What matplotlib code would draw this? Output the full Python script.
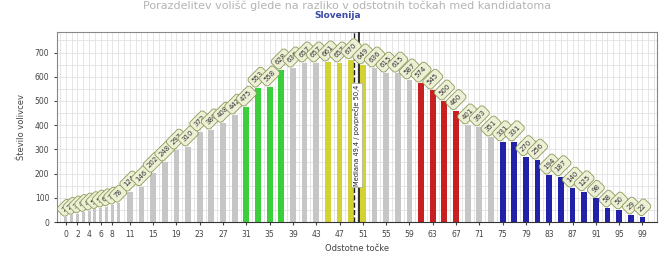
import matplotlib
matplotlib.use("Agg")
import matplotlib.pyplot as plt
from matplotlib.ticker import AutoMinorLocator

# odstotne točke (bars) and counts
LOW_POINTS = [0, 1, 2, 3, 4, 5, 6, 7, 8, 9]
LOW_COUNTS = [20, 28, 34, 40, 46, 52, 58, 63, 70, 78]

ODD_POINTS = list(range(11, 100, 2))
ODD_COUNTS = [124, 146, 202, 248, 297, 310, 372, 380, 408, 442,
              475, 553, 558, 628, 636, 657, 657, 661, 657, 670,
              649, 636, 615, 615, 587, 574, 545, 500, 460, 401,
              393, 351, 331, 331, 270, 256, 194, 187, 140, 125,
              98, 58, 50, 29, 22]

GREEN = [31, 33, 35, 37]
YELLOW = [45, 47, 49, 51]
RED = [61, 63, 65, 67]
BLUE = list(range(75, 100, 2))

X_TICKS = [0, 2, 4, 6, 8] + list(range(11, 100, 4))
MEDIAN = 49.4
MEAN = 50.4

TITLE = "Porazdelitev volišč glede na razliko v odstotnih točkah med kandidatoma"
SUBTITLE = "Slovenija"
X_LABEL = "Odstotne točke"
Y_LABEL = "Število volivcev"
LINE_TEXT = "Mediana 49,4 / povprečje 50,4"

COLORS = {
    "gray": "#c6c6c6",
    "green": "#3ccf3c",
    "yellow": "#d2d232",
    "red": "#c82020",
    "blue": "#2222a8",
    "grid": "#e2e2e2",
    "bubble": "#eef0d6",
    "bubble_edge": "#8a9a58",
}


def bar_color(x):
    if x in GREEN:
        return COLORS["green"]
    if x in YELLOW:
        return COLORS["yellow"]
    if x in RED:
        return COLORS["red"]
    if x in BLUE:
        return COLORS["blue"]
    return COLORS["gray"]


fig = plt.figure(figsize=(6.67, 2.6), dpi=100)
ax = fig.add_axes([0.0855, 0.146, 0.8995, 0.731])

ax.bar(LOW_POINTS, LOW_COUNTS, width=0.5, color=[bar_color(x) for x in LOW_POINTS], zorder=2)
ax.bar(ODD_POINTS, ODD_COUNTS, width=1.0, color=[bar_color(x) for x in ODD_POINTS], zorder=2)

for x, v in list(zip(LOW_POINTS, LOW_COUNTS)) + list(zip(ODD_POINTS, ODD_COUNTS)):
    ax.annotate(
        f"{v}",
        xy=(x, v),
        xytext=(0, 3),
        textcoords="offset points",
        rotation=45,
        ha="center",
        va="bottom",
        fontsize=5,
        color="#333333",
        bbox={"boxstyle": "round,pad=0.45", "fc": COLORS["bubble"],
              "ec": COLORS["bubble_edge"], "lw": 0.6},
        zorder=4,
    )

ax.axvline(MEDIAN, color="#222222", linestyle="--", linewidth=1.0, zorder=3)
ax.axvline(MEAN, color="#111111", linewidth=1.2, zorder=3)
ax.text((MEDIAN + MEAN) / 2, 360, LINE_TEXT, rotation=90, ha="center", va="center",
        fontsize=4.8, color="#222222",
        bbox={"fc": "white", "ec": "#999999", "lw": 0.4, "pad": 1.2}, zorder=5)

ax.set_xlim(-1.5, 101.5)
ax.set_ylim(0, 785)
ax.set_xticks(X_TICKS)
ax.set_yticks(range(0, 800, 100))
ax.yaxis.set_minor_locator(AutoMinorLocator(2))
ax.xaxis.set_minor_locator(AutoMinorLocator(2))
ax.tick_params(labelsize=5.5, length=2, colors="#444444")
ax.tick_params(which="minor", length=0)
ax.grid(which="both", color=COLORS["grid"], linewidth=0.6, zorder=0)
ax.set_axisbelow(True)
for spine in ax.spines.values():
    spine.set_color("#888888")
    spine.set_linewidth(0.8)
ax.spines["bottom"].set_color("#333333")

ax.set_xlabel(X_LABEL, fontsize=6, color="#444444", labelpad=4)
ax.set_ylabel(Y_LABEL, fontsize=6, color="#444444", labelpad=6)

fig.text(0.52, 0.997, TITLE, ha="center", va="top", fontsize=8, color="#b4b4b4")
fig.text(0.507, 0.94, SUBTITLE, ha="center", va="center", fontsize=6.5,
         color="#3a4aa8", fontweight="semibold")

fig.savefig("out.png", dpi=100)
